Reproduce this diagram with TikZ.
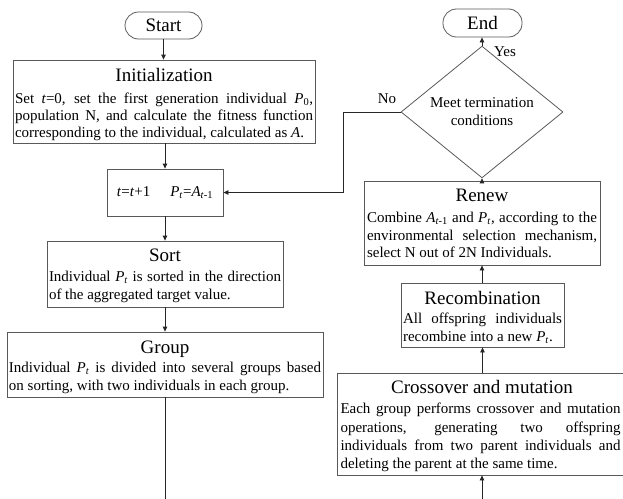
\documentclass[tikz,border=0pt]{standalone}
\usepackage{fontspec}
\setmainfont{Liberation Serif}
\usetikzlibrary{arrows.meta,shapes.geometric}
\newcommand\Pt{\textit{P}\textsubscript{\textit{t}}}
\newcommand\Atm{\textit{A}\textsubscript{\textit{t}-1}}
\tikzset{
  box/.style={draw=black!65, line width=0.8pt, inner sep=0pt},
  term/.style={box, rounded corners=13.5pt, font=\fontsize{19}{22}\selectfont},
  ttl/.style={font=\fontsize{19}{22}\selectfont, inner sep=0pt, anchor=base},
  body/.style={font=\fontsize{15}{18}\selectfont, inner sep=0pt, align=justify, anchor=north},
  lbl/.style={font=\fontsize{15}{18}\selectfont, inner sep=0pt},
  arr/.style={draw=black!85, line width=0.8pt, -{Triangle[length=5pt,width=4.5pt]}},
  ln/.style={draw=black!85, line width=0.8pt},
}
\begin{document}
\begin{tikzpicture}[x=1pt,y=-1pt]
\useasboundingbox (0,0) rectangle (623,498);
\clip (0,0) rectangle (623,498);
% left column
\node[term, minimum width=77pt, minimum height=27pt] (start) at (163.5,25.5) {Start};
\node[box, minimum width=302pt, minimum height=83pt] (init) at (164,101.5) {};
\node[ttl] (initT) at (164,81.5) {Initialization};
\node[body, text width=298pt, font=\fontsize{15}{17}\selectfont] (initB) at (164,92.5)
  {Set \textit{t}=0, set the first generation individual \textit{P}\textsubscript{0},\linebreak population N, and calculate the fitness function\linebreak corresponding to the individual, calculated as \textit{A}.};
\node[box, minimum width=116pt, minimum height=47pt, font=\fontsize{15}{18}\selectfont] (tb) at (165,192.5)
  {\textit{t}=\textit{t}+1\hspace{20pt}\Pt=\Atm};
\node[box, minimum width=236pt, minimum height=66pt] (sort) at (165,274) {};
\node[ttl] (sortT) at (165,261.5) {Sort};
\node[body, text width=232pt] (sortB) at (165,271)
  {Individual \Pt{} is sorted in the direction\linebreak of the aggregated target value.};
\node[box, minimum width=316pt, minimum height=65pt] (group) at (165,364.5) {};
\node[ttl] (groupT) at (165,353.5) {Group};
\node[body, text width=312pt] (groupB) at (165,362)
  {Individual \Pt{} is divided into several groups based\linebreak on sorting, with two individuals in each group.};
\coordinate (gend) at (165,500);
% right column
\node[term, minimum width=79pt, minimum height=28pt] (end) at (482.5,23) {End};
\node[box, shape=diamond, minimum width=162pt, minimum height=97pt, align=center,
      font=\fontsize{15}{18}\selectfont] (dia) at (482,112) {Meet termination\\conditions};
\node[box, minimum width=236pt, minimum height=84pt] (renew) at (482,223) {};
\node[ttl] (renewT) at (482,201.5) {Renew};
\node[body, text width=230pt, font=\fontsize{15}{17.5}\selectfont] (renewB) at (482,212)
  {Combine \Atm{} and \Pt, according to the\linebreak environmental selection mechanism,\linebreak select N out of 2N Individuals.};
\node[box, minimum width=163pt, minimum height=64pt] (recomb) at (482.5,315) {};
\node[ttl] (recombT) at (482.5,304.5) {Recombination};
\node[body, text width=159pt] (recombB) at (482.5,313)
  {All offspring individuals\linebreak recombine into a new \Pt.};
\node[box, minimum width=294pt, minimum height=102pt] (cross) at (484,424) {};
\node[ttl] (crossT) at (482,393.5) {Crossover and mutation};
\node[body, text width=280pt, font=\fontsize{15}{18.3}\selectfont] (crossB) at (480.5,403)
  {Each group performs crossover and mutation\linebreak operations, generating two offspring\linebreak individuals from two parent individuals and\linebreak deleting the parent at the same time.};
\coordinate (cstart) at (482,500);
\coordinate (nk) at (343,112);
% labels
\node[lbl] (yes) at (505,52) {Yes};
\node[lbl] (no) at (387,99) {No};
% connectors
\draw[arr] (start.south) -- (start.south |- init.north);
\draw[arr] (init.south -| tb.north) -- (tb.north);
\draw[arr] (tb.south) -- (tb.south |- sort.north);
\draw[arr] (sort.south) -- (sort.south |- group.north);
\draw[ln] (group.south) -- (gend);
\draw[arr] (cstart) -- (cstart |- cross.south);
\draw[arr] (cross.north -| recomb.south) -- (recomb.south);
\draw[arr] (recomb.north -| renew.south) -- (renew.south);
\draw[arr] (renew.north -| dia.south) -- (dia.south);
\draw[arr] (dia.north) -- (dia.north |- end.south);
\draw[arr] (dia.west) -- (nk) |- (tb.east);
\end{tikzpicture}
\end{document}
